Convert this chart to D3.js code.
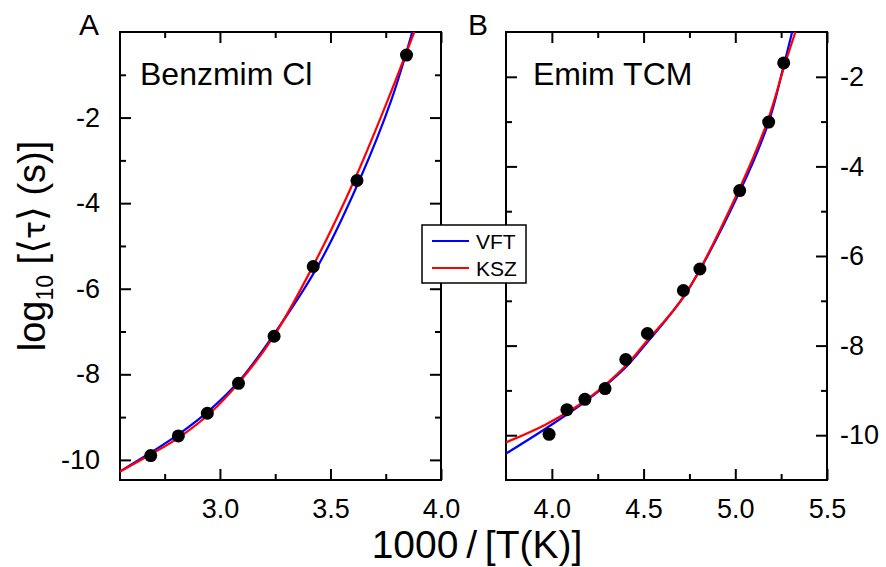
<!DOCTYPE html>
<html lang="en">
<head>
<meta charset="UTF-8">
<title>log10 tau vs 1000/T</title>
<script src="https://d3js.org/d3.v7.min.js"></script>
<style>
  body { margin: 0; background: #fff; }
  svg { display: block; font-family: "Liberation Sans", Arial, "DejaVu Sans", sans-serif; }
  .tick line { stroke: #000; stroke-width: 2; }
  .domain { display: none; }
</style>
</head>
<body>
<svg width="886" height="567"></svg>
<script>
// Panel A - Benzmim Cl
const benzX = [2.687, 2.812, 2.943, 3.084, 3.245, 3.422, 3.620, 3.844];
const benzY = [-9.90, -9.44, -8.91, -8.21, -7.11, -5.48, -3.47, -0.54];
const benzVftX = [2.548, 2.684, 2.819, 2.955, 3.090, 3.241, 3.444, 3.633, 3.776, 3.870];
const benzVftY = [-10.27, -9.84, -9.38, -8.83, -8.14, -7.09, -5.46, -3.44, -1.58, 0.0];
const benzKszX = [2.548, 2.684, 2.819, 2.955, 3.090, 3.241, 3.422, 3.610, 3.760, 3.879];
const benzKszY = [-10.27, -9.88, -9.46, -8.91, -8.17, -7.13, -5.46, -3.44, -1.58, 0.0];

// Panel B - Emim TCM
const emimX = [3.985, 4.082, 4.180, 4.290, 4.403, 4.521, 4.717, 4.807, 5.024, 5.182, 5.264];
const emimY = [-9.98, -9.43, -9.20, -8.96, -8.31, -7.73, -6.77, -6.29, -4.54, -3.01, -1.69];
const emimVftX = [3.75, 3.967, 4.185, 4.403, 4.511, 4.729, 5.028, 5.182, 5.264, 5.310];
const emimVftY = [-10.41, -9.85, -9.24, -8.48, -7.97, -6.84, -4.53, -3.01, -1.75, -1.0];
const emimKszX = [3.75, 3.967, 4.185, 4.403, 4.511, 4.729, 5.019, 5.174, 5.268, 5.328];
const emimKszY = [-10.16, -9.76, -9.22, -8.45, -7.93, -6.85, -4.53, -3.01, -1.75, -1.0];

// axis ticks
const aXMajor = [3.0, 3.5, 4.0], aXMinor = [2.75, 3.25, 3.75];
const aYMajor = [-10, -8, -6, -4, -2], aYMinor = [-9, -7, -5, -3, -1];
const bXMajor = [4.0, 4.5, 5.0, 5.5], bXMinor = [4.25, 4.75, 5.25];
const bYMajor = [-10, -8, -6, -4, -2], bYMinor = [-9, -7, -5, -3];

const svg = d3.select("svg");
const plotTop = 32, plotBottom = 480;

const panels = [
  { id: "A", name: "Benzmim Cl", left: 120, right: 441, xd: [2.548, 4.0], yd: [-10.47, 0],
    px: benzX, py: benzY, vx: benzVftX, vy: benzVftY, kx: benzKszX, ky: benzKszY,
    xMaj: aXMajor, xMin: aXMinor, yMaj: aYMajor, yMin: aYMinor, labelSide: "left",
    letterX: 79, nameX: 140 },
  { id: "B", name: "Emim TCM", left: 506, right: 827, xd: [3.75, 5.5], yd: [-11, -1],
    px: emimX, py: emimY, vx: emimVftX, vy: emimVftY, kx: emimKszX, ky: emimKszY,
    xMaj: bXMajor, xMin: bXMinor, yMaj: bYMajor, yMin: bYMinor, labelSide: "right",
    letterX: 468, nameX: 533 }
];

const fmtX = d3.format(".1f");

panels.forEach(p => {
  const w = p.right - p.left, h = plotBottom - plotTop;
  const x = d3.scaleLinear().domain(p.xd).range([0, w]);
  const y = d3.scaleLinear().domain(p.yd).range([h, 0]);
  const g = svg.append("g").attr("transform", `translate(${p.left},${plotTop})`);

  g.append("clipPath").attr("id", "clip" + p.id)
    .append("rect").attr("width", w).attr("height", h);

  // ticks (inward, on all four sides)
  g.append("g").attr("transform", `translate(0,${h})`)
    .call(d3.axisBottom(x).tickValues(p.xMaj).tickSize(-11).tickPadding(19).tickFormat(fmtX));
  g.append("g").attr("transform", `translate(0,${h})`)
    .call(d3.axisBottom(x).tickValues(p.xMin).tickSize(-6).tickFormat(""));
  g.append("g")
    .call(d3.axisTop(x).tickValues(p.xMaj).tickSize(-11).tickFormat(""));
  g.append("g")
    .call(d3.axisTop(x).tickValues(p.xMin).tickSize(-6).tickFormat(""));

  const yl = p.labelSide === "left";
  g.append("g")
    .call(d3.axisLeft(y).tickValues(p.yMaj).tickSize(-11).tickPadding(20)
      .tickFormat(yl ? (d => String(d)) : ""));
  g.append("g")
    .call(d3.axisLeft(y).tickValues(p.yMin).tickSize(-6).tickFormat(""));
  g.append("g").attr("transform", `translate(${w},0)`)
    .call(d3.axisRight(y).tickValues(p.yMaj).tickSize(-11).tickPadding(13)
      .tickFormat(yl ? "" : (d => String(d))));
  g.append("g").attr("transform", `translate(${w},0)`)
    .call(d3.axisRight(y).tickValues(p.yMin).tickSize(-6).tickFormat(""));

  g.selectAll(".tick text").attr("font-size", 27).attr("fill", "#000")
    .attr("font-family", "Liberation Sans, Arial, sans-serif");

  // frame
  g.append("rect").attr("width", w).attr("height", h)
    .attr("fill", "none").attr("stroke", "#000").attr("stroke-width", 2);

  // fit curves
  const line = d3.line().x(d => x(d[0])).y(d => y(d[1])).curve(d3.curveCatmullRom);
  const curves = g.append("g").attr("clip-path", `url(#clip${p.id})`);
  curves.append("path").datum(d3.zip(p.vx, p.vy)).attr("d", line)
    .attr("fill", "none").attr("stroke", "#0000ff").attr("stroke-width", 2.2);
  curves.append("path").datum(d3.zip(p.kx, p.ky)).attr("d", line)
    .attr("fill", "none").attr("stroke", "#ff0000").attr("stroke-width", 2.2);

  // data points
  g.selectAll("circle.pt").data(d3.zip(p.px, p.py)).enter().append("circle")
    .attr("class", "pt")
    .attr("cx", d => x(d[0])).attr("cy", d => y(d[1])).attr("r", 6.5)
    .attr("fill", "#000");

  // panel letter and name
  svg.append("text").attr("x", p.letterX).attr("y", 35)
    .attr("font-size", 30).text(p.id);
  svg.append("text").attr("x", p.nameX).attr("y", 85)
    .attr("font-size", 32).text(p.name);
});

// legend
const legend = svg.append("g");
legend.append("rect").attr("x", 422).attr("y", 225).attr("width", 104).attr("height", 58)
  .attr("fill", "#fff").attr("stroke", "#000").attr("stroke-width", 1.5);
const legendItems = [["VFT", "#0000ff"], ["KSZ", "#ff0000"]];
legendItems.forEach((it, i) => {
  const ly = 241 + i * 27;
  legend.append("line").attr("x1", 432).attr("x2", 469).attr("y1", ly).attr("y2", ly)
    .attr("stroke", it[1]).attr("stroke-width", 2.2);
  legend.append("text").attr("x", 476).attr("y", ly + 7.5)
    .attr("font-size", 21).text(it[0]);
});

// axis titles
svg.append("text").attr("x", 477).attr("y", 558).attr("text-anchor", "middle")
  .attr("font-size", 39).text("1000\u2009/\u2009[T(K)]");

const yt = svg.append("text").attr("transform", "translate(45,246) rotate(-90)")
  .attr("text-anchor", "middle").attr("font-size", 38);
yt.append("tspan").text("log");
yt.append("tspan").attr("font-size", 23).attr("dy", 8).text("10");
yt.append("tspan").attr("dy", -8).text(" [\u27E8");
yt.append("tspan").attr("font-size", 30).attr("font-family", "DejaVu Sans").text("\u03C4");
yt.append("tspan").text("\u27E9 (s)]");
</script>
</body>
</html>
